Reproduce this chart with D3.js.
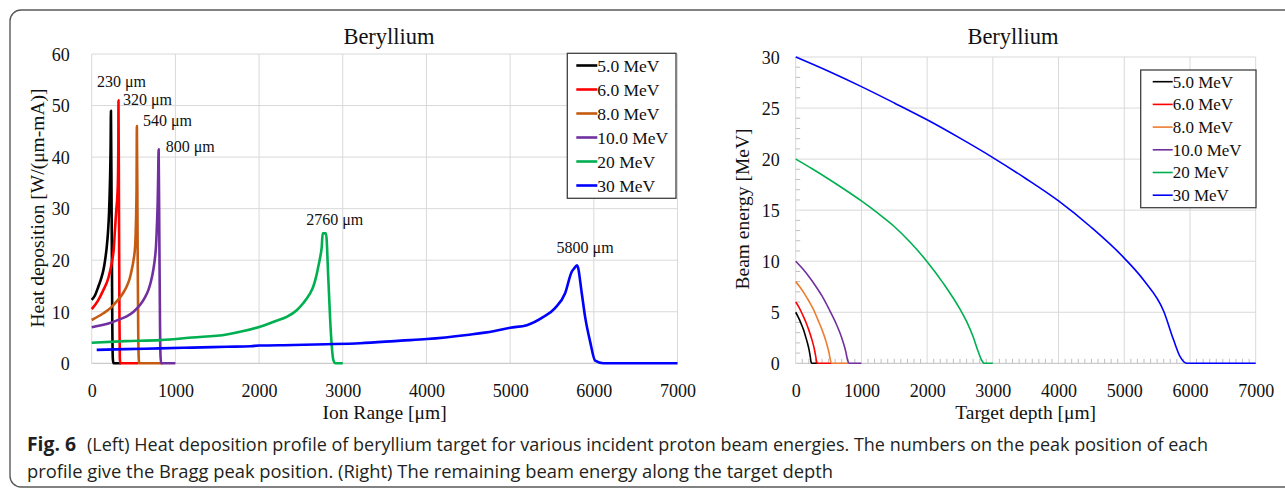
<!DOCTYPE html>
<html>
<head>
<meta charset="utf-8">
<script src="https://cdn.jsdelivr.net/npm/d3@7"></script>
<style>
  html, body { margin: 0; padding: 0; background: #fff; }
  svg { display: block; }
</style>
</head>
<body>
<svg id="fig" width="1285" height="489"></svg>
<script>
// ---------- data ----------
const seriesNames = ["5.0 MeV", "6.0 MeV", "8.0 MeV", "10.0 MeV", "20 MeV", "30 MeV"];
const xTicks = [0, 1000, 2000, 3000, 4000, 5000, 6000, 7000];
const heatTicks = [0, 10, 20, 30, 40, 50, 60];
const energyTicks = [0, 5, 10, 15, 20, 25, 30];

// heat deposition [W/(um-mA)] vs ion range [um]
const heat5 = [[0,12.3],[40,13.2],[80,14.9],[110,16.3],[140,18.1],[160,20.0],[180,22.6],[195,25.5],[207,29.1],[219,35.6],[226,42],[230,49],[238,30],[246,8],[252,1],[260,0],[350,0]];
const heat6 = [[0,10.5],[70,12],[139,14.2],[200,16.6],[239,19.4],[265,22.5],[278,25.9],[295,30],[306,32.3],[314,36],[318,42],[320,51],[326,30],[332,8],[336,1],[342,0],[560,0]];
const heat8 = [[0,8.4],[139,9.7],[230,10.8],[299,12],[370,13.5],[418,14.9],[455,16.5],[478,18.1],[500,20],[520,23],[530,28],[536,34],[540,46],[548,25],[556,6],[562,1],[568,0],[850,0]];
const heat10 = [[0,7.0],[219,7.8],[330,8.5],[418,9.1],[500,10],[577,11.3],[630,12.6],[677,14.2],[710,16],[736,18.1],[755,20.3],[768,22.6],[780,27],[788,31],[794,36],[800,41.5],[808,25],[816,8],[822,1.5],[830,0],[1000,0]];
const heat20 = [[0,4.0],[400,4.3],[816,4.5],[1200,5.0],[1613,5.6],[1800,6.2],[2011,7.1],[2200,8.2],[2330,9.0],[2450,10.3],[2529,11.7],[2600,13.3],[2648,14.9],[2685,17],[2708,18.8],[2735,21],[2749,22.6],[2760,25.2],[2800,25.2],[2828,16.2],[2856,6.5],[2888,0.6],[2912,0],[3000,0]];
const heat30 = [[60,2.6],[400,2.75],[816,2.9],[1200,3.05],[1613,3.2],[1900,3.3],[2000,3.45],[2410,3.55],[2800,3.7],[3207,3.9],[3693,4.4],[4004,4.7],[4482,5.5],[4800,6.2],[5000,6.9],[5199,7.4],[5398,9.0],[5537,10.7],[5657,13.6],[5737,17.8],[5760,18.3],[5800,19.0],[5856,13.6],[5896,9.0],[5956,4.2],[6016,0.5],[6114,0],[7000,0]];

// Bragg peak positions [um] and peak heights
const peakRange = [230, 320, 540, 800, 2760, 5800];
const peakHeat = [49, 51, 46, 41.5, 25.2, 19.0];

// remaining beam energy [MeV] vs target depth [um]
const energy5 = [[0,5],[29,4.65],[59,4.25],[88,3.8],[118,3.3],[147,2.7],[176,2.05],[206,1.25],[223,0.6],[233,0.15],[245,0],[330,0]];
const energy6 = [[0,6],[40,5.6],[80,5.1],[120,4.55],[160,3.95],[200,3.25],[240,2.45],[280,1.5],[304,0.7],[317,0.2],[330,0],[540,0]];
const energy8 = [[0,8],[67,7.45],[134,6.8],[200,6.1],[268,5.3],[335,4.3],[400,3.3],[468,2.0],[508,1.0],[530,0.25],[545,0],[800,0]];
const energy10 = [[0,10],[100,9.3],[200,8.5],[300,7.6],[400,6.6],[500,5.4],[600,4.1],[700,2.5],[760,1.2],[790,0.3],[810,0],[1000,0]];
const energy20 = [[0,20],[250,19.05],[500,18.05],[750,17.0],[1000,15.9],[1250,14.7],[1500,13.4],[1750,11.8],[2000,9.95],[2250,7.8],[2500,5.3],[2600,4.1],[2700,2.6],[2780,1.1],[2830,0.3],[2870,0],[3000,0]];
const energy30 = [[0,30],[500,28.6],[1000,27.1],[1500,25.5],[2000,23.85],[2500,22.05],[3000,20.15],[3500,18.1],[4000,15.9],[4500,13.3],[5000,10.3],[5300,8.1],[5600,5.1],[5750,2.3],[5850,0.65],[5950,0],[7000,0]];

const heatSeries = [heat5, heat6, heat8, heat10, heat20, heat30];
const energySeries = [energy5, energy6, energy8, energy10, energy20, energy30];

// ---------- styling ----------
const heatColors = ["#000000", "#ff0000", "#c55a11", "#7030a0", "#00b050", "#0000ff"];
const energyColors = ["#000000", "#ff0000", "#ed7d31", "#7030a0", "#00b050", "#0000ff"];
const serif = "'Liberation Serif', 'Times New Roman', serif";
const gridColor = "#d9d9d9";

const svg = d3.select("#fig");

// frame around the figure
svg.append("rect")
  .attr("x", 10).attr("y", 10)
  .attr("width", 1300).attr("height", 477)
  .attr("rx", 11).attr("ry", 11)
  .attr("fill", "none").attr("stroke", "#5a5a5a").attr("stroke-width", 1.4);

function drawPanel(cfg) {
  const g = svg.append("g");
  const x = d3.scaleLinear().domain([0, 7000]).range(cfg.xRange);
  const y = d3.scaleLinear().domain(cfg.yDomain).range(cfg.yRange);

  // grid
  g.append("g").selectAll("line").data(xTicks).join("line")
    .attr("x1", d => x(d)).attr("x2", d => x(d))
    .attr("y1", y.range()[0]).attr("y2", y.range()[1])
    .attr("stroke", gridColor).attr("stroke-width", 1);
  g.append("g").selectAll("line").data(cfg.yTicks).join("line")
    .attr("x1", x.range()[0]).attr("x2", x.range()[1])
    .attr("y1", d => y(d)).attr("y2", d => y(d))
    .attr("stroke", d => d === 0 ? "#bfbfbf" : gridColor).attr("stroke-width", 1);

  if (cfg.minorTicks) {
    const yMinor = d3.range(0, 31, 1).filter(v => v % 5 !== 0);
    g.append("g").selectAll("line").data(yMinor).join("line")
      .attr("x1", x(0)).attr("x2", x(0) + 4.5)
      .attr("y1", d => y(d)).attr("y2", d => y(d))
      .attr("stroke", "#bfbfbf").attr("stroke-width", 1);
    const xMinor = d3.range(100, 7000, 100).filter(v => v % 1000 !== 0);
    g.append("g").selectAll("line").data(xMinor).join("line")
      .attr("x1", d => x(d)).attr("x2", d => x(d))
      .attr("y1", y(0)).attr("y2", y(0) - 4.5)
      .attr("stroke", "#bfbfbf").attr("stroke-width", 1);
  }

  // tick labels via axes (domain and tick lines hidden)
  const xAxis = g.append("g")
    .attr("transform", `translate(0,${y(0)})`)
    .call(d3.axisBottom(x).tickValues(xTicks).tickFormat(d3.format("d")).tickSize(0).tickPadding(21));
  const yAxis = g.append("g")
    .attr("transform", `translate(${x(0)},0)`)
    .call(d3.axisLeft(y).tickValues(cfg.yTicks).tickFormat(d3.format("d")).tickSize(0).tickPadding(cfg.yPad));
  [xAxis, yAxis].forEach(a => {
    a.select(".domain").remove();
    a.selectAll("text").attr("font-family", serif).attr("font-size", 18).attr("fill", "#111");
  });
  yAxis.selectAll("text").attr("dy", "0.35em");

  // title and axis labels
  g.append("text").attr("x", cfg.titleX).attr("y", 44)
    .attr("text-anchor", "middle").attr("font-family", serif).attr("font-size", 22.5)
    .attr("fill", "#111").text("Beryllium");
  g.append("text").attr("x", (x.range()[0] + x.range()[1]) / 2 + cfg.xLabelShift).attr("y", 419)
    .attr("text-anchor", "middle").attr("font-family", serif).attr("font-size", 19.5)
    .attr("fill", "#111").text(cfg.xLabel);
  g.append("text")
    .attr("transform", `translate(${cfg.yLabelX},${cfg.yLabelY}) rotate(-90)`)
    .attr("dy", "0.35em")
    .attr("text-anchor", "middle").attr("font-family", serif).attr("font-size", 19.5)
    .attr("fill", "#111").text(cfg.yLabel);

  // series
  const line = d3.line().x(d => x(d[0])).y(d => y(d[1])).curve(cfg.curve);
  cfg.series.forEach((s, i) => {
    g.append("path").datum(s)
      .attr("d", line)
      .attr("fill", "none")
      .attr("stroke", cfg.colors[i])
      .attr("stroke-width", cfg.lineWidth)
      .attr("stroke-linejoin", "round");
  });

  // legend
  const L = cfg.legend;
  g.append("rect").attr("x", L.x).attr("y", L.y).attr("width", L.w).attr("height", L.h)
    .attr("fill", "#fff").attr("stroke", "#404040").attr("stroke-width", 1.3);
  seriesNames.forEach((name, i) => {
    const cy = L.firstRow + i * L.step;
    g.append("line").attr("x1", L.x + L.lineStart).attr("x2", L.x + L.lineStart + L.lineLen)
      .attr("y1", cy).attr("y2", cy)
      .attr("stroke", cfg.colors[i]).attr("stroke-width", L.lineWidth);
    g.append("text").attr("x", L.x + L.lineStart + L.lineLen).attr("y", cy).attr("dy", "0.35em")
      .attr("font-family", serif).attr("font-size", L.fontSize).attr("fill", "#111").text(name);
  });

  return { g, x, y };
}

// left panel: heat deposition profiles
const left = drawPanel({
  xRange: [91.7, 677.5], yDomain: [0, 60], yRange: [363.3, 54], yTicks: heatTicks,
  yPad: 22, titleX: 389, xLabel: "Ion Range [μm]", xLabelShift: 0,
  yLabel: "Heat deposition [W/(μm-mA)]", yLabelX: 37, yLabelY: 208,
  series: heatSeries, colors: heatColors, lineWidth: 2.6, curve: d3.curveMonotoneX,
  minorTicks: false,
  legend: { x: 567.3, y: 53.3, w: 108.7, h: 145, firstRow: 65.5, step: 24, lineStart: 9, lineLen: 21, lineWidth: 2.6, fontSize: 17.5 }
});

// Bragg peak annotations
const peakLabelOffset = [[-14, -29, "start"], [4.5, -1, "start"], [6, -6, "start"], [7, -3, "start"], [12, -14, "middle"], [8, -18, "middle"]];
peakRange.forEach((p, i) => {
  const [dx, dy, anchor] = peakLabelOffset[i];
  left.g.append("text")
    .attr("x", left.x(p) + dx).attr("y", left.y(peakHeat[i]) + dy).attr("dy", "0.35em")
    .attr("text-anchor", anchor)
    .attr("font-family", serif).attr("font-size", 16).attr("fill", "#111")
    .text(`${p} μm`);
});

// right panel: remaining beam energy
drawPanel({
  xRange: [795.7, 1255.7], yDomain: [0, 30], yRange: [363.3, 57], yTicks: energyTicks,
  yPad: 16, titleX: 1013, xLabel: "Target depth [μm]", xLabelShift: 0,
  yLabel: "Beam energy [MeV]", yLabelX: 742, yLabelY: 209,
  series: energySeries, colors: energyColors, lineWidth: 1.6, curve: d3.curveMonotoneX,
  minorTicks: true,
  legend: { x: 1140.7, y: 70, w: 115.3, h: 137.7, firstRow: 81.7, step: 22.7, lineStart: 12, lineLen: 20, lineWidth: 1.6, fontSize: 17 }
});

// caption
const capFont = "'Open Sans', 'Noto Sans', sans-serif";
svg.append("text").attr("x", 27).attr("y", 451)
  .attr("font-family", capFont).attr("font-size", 19).attr("font-weight", "bold").attr("fill", "#231f20")
  .attr("textLength", 49).attr("lengthAdjust", "spacingAndGlyphs").text("Fig. 6");
svg.append("text").attr("x", 87).attr("y", 451)
  .attr("font-family", capFont).attr("font-size", 19).attr("fill", "#231f20")
  .attr("textLength", 1121).attr("lengthAdjust", "spacingAndGlyphs")
  .text("(Left) Heat deposition profile of beryllium target for various incident proton beam energies. The numbers on the peak position of each");
svg.append("text").attr("x", 27).attr("y", 478)
  .attr("font-family", capFont).attr("font-size", 19).attr("fill", "#231f20")
  .attr("textLength", 806).attr("lengthAdjust", "spacingAndGlyphs")
  .text("profile give the Bragg peak position. (Right) The remaining beam energy along the target depth");
</script>
</body>
</html>
